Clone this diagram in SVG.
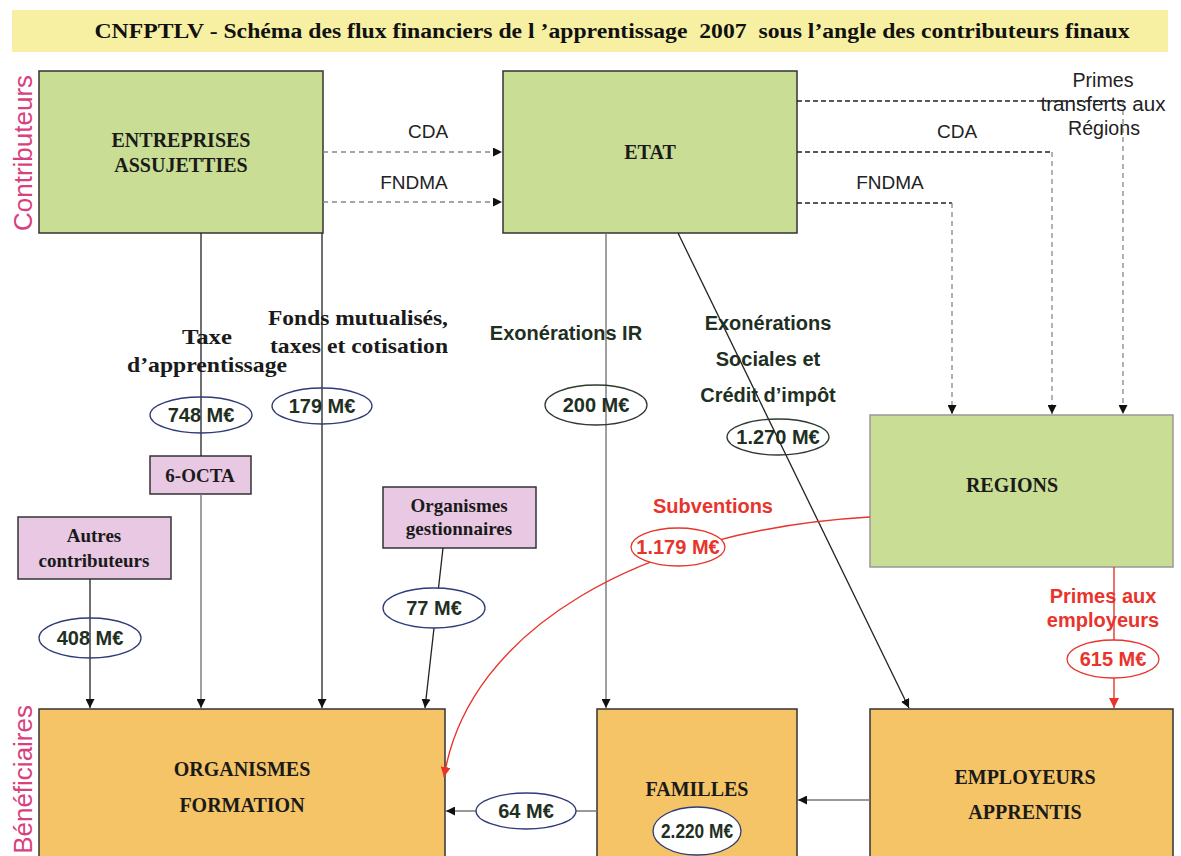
<svg xmlns="http://www.w3.org/2000/svg" width="1181" height="856" viewBox="0 0 1181 856">
<style>
.node{stroke:#333;stroke-width:1.5}
.green{fill:#c9dd94}
.orange{fill:#f5c467}
.pink{fill:#e8c8e2}
.nt{font-family:"Liberation Serif","Times New Roman",serif;font-weight:bold;font-size:20px;fill:#1a1a1a;text-anchor:middle}
.ft{font-family:"Liberation Serif","Times New Roman",serif;font-weight:bold;font-size:22px;fill:#1a1a1a;text-anchor:middle}
.st{font-family:"Liberation Serif","Times New Roman",serif;font-weight:bold;font-size:19px;fill:#1a1a1a;text-anchor:middle}
.lab{font-family:"Liberation Sans",Arial,sans-serif;font-size:19px;fill:#222;text-anchor:middle}
.labs{font-family:"Liberation Sans",Arial,sans-serif;font-size:20px;fill:#222;text-anchor:middle}
.bv{font-family:"Liberation Sans",Arial,sans-serif;font-weight:bold;font-size:20px;fill:#1f2f22;text-anchor:middle}
.redv{font-family:"Liberation Sans",Arial,sans-serif;font-weight:bold;font-size:20px;fill:#e8342b;text-anchor:middle}
.side{font-family:"Liberation Sans",Arial,sans-serif;font-size:26px;fill:#d9417e}
.ln{fill:none;stroke:#222;stroke-width:1.3}
.gl{fill:none;stroke:#777;stroke-width:1.4}
.dsh{fill:none;stroke:#888;stroke-width:1.3;stroke-dasharray:5 4}
.dshk{fill:none;stroke:#222;stroke-width:1.3;stroke-dasharray:5 3}
.rl{fill:none;stroke:#e8342b;stroke-width:1.4}
.eb{fill:none;stroke:#2e3b78;stroke-width:1.3}
.ebw{fill:#fff;stroke:#2e3b78;stroke-width:1.3}
.eg{fill:none;stroke:#2e3a2e;stroke-width:1.3}
.er{fill:#fff;stroke:#e8342b;stroke-width:1.3}
</style>
<defs>
<marker id="ak" viewBox="0 0 10 10" refX="10" refY="5" markerWidth="9" markerHeight="9" markerUnits="userSpaceOnUse" orient="auto"><path d="M0,0 L10,5 L0,10 z" fill="#111"/></marker>
<marker id="ar" viewBox="0 0 10 10" refX="10" refY="5" markerWidth="10" markerHeight="10" markerUnits="userSpaceOnUse" orient="auto"><path d="M0,0 L10,5 L0,10 z" fill="#e8342b"/></marker>
</defs>
<rect width="1181" height="856" fill="#fff"/>
<g id="title">
<rect x="12" y="10" width="1156" height="42" fill="#f7f0a2"/>
<text x="612" y="38" xml:space="preserve" style="white-space:pre" font-family="'Liberation Serif','Times New Roman',serif" font-weight="bold" font-size="20" fill="#111" text-anchor="middle" textLength="1035" lengthAdjust="spacingAndGlyphs">CNFPTLV - Schéma des flux financiers de l ’apprentissage  2007  sous l’angle des contributeurs finaux</text>
</g>
<text class="side" transform="translate(32,153) rotate(-90)" text-anchor="middle">Contributeurs</text>
<text class="side" transform="translate(32,705) rotate(-90)" text-anchor="end">Bénéficiaires</text>

<g id="entreprises">
<rect class="node green" x="39" y="71" width="284" height="162"/>
<text class="nt" x="181" y="147">ENTREPRISES</text>
<text class="nt" x="181" y="172">ASSUJETTIES</text>
</g>
<g id="etat">
<rect class="node green" x="503" y="71" width="294" height="162"/>
<text class="nt" x="650" y="159">ETAT</text>
</g>
<g id="regions">
<rect x="870" y="415" width="303" height="152" fill="#c9dd94" stroke="#999" stroke-width="1.5"/>
<text class="nt" x="1012" y="492">REGIONS</text>
</g>
<g id="octa">
<rect class="node pink" x="150" y="456" width="101" height="38"/>
<text class="st" x="200" y="482">6-OCTA</text>
</g>
<g id="autres">
<rect class="node pink" x="18" y="517" width="153" height="62"/>
<text class="st" x="94" y="542">Autres</text>
<text class="st" x="94" y="567">contributeurs</text>
</g>
<g id="gestionnaires">
<rect class="node pink" x="383" y="487" width="153" height="61"/>
<text class="st" x="459" y="512">Organismes</text>
<text class="st" x="459" y="535">gestionnaires</text>
</g>
<g id="organismes">
<rect class="node orange" x="39" y="709" width="406" height="160"/>
<text class="nt" x="242" y="776">ORGANISMES</text>
<text class="nt" x="242" y="812">FORMATION</text>
</g>
<g id="familles">
<rect class="node orange" x="597" y="709" width="200" height="160"/>
<text class="nt" x="697" y="796">FAMILLES</text>
</g>
<g id="employeurs">
<rect class="node orange" x="870" y="709" width="303" height="160"/>
<text class="nt" x="1025" y="784">EMPLOYEURS</text>
<text class="nt" x="1025" y="819">APPRENTIS</text>
</g>

<g id="connectors">
<path class="dsh" d="M323,152 H502" marker-end="url(#ak)"/>
<path class="dsh" d="M323,202 H502" marker-end="url(#ak)"/>
<text class="lab" x="428" y="138">CDA</text>
<text class="lab" x="414" y="189">FNDMA</text>

<path class="dshk" d="M797,101 H1123"/>
<path class="dsh" d="M1123,101 V414" marker-end="url(#ak)"/>
<path class="dshk" d="M797,152 H1052"/>
<path class="dsh" d="M1052,152 V414" marker-end="url(#ak)"/>
<path class="dshk" d="M797,203 H952"/>
<path class="dsh" d="M952,203 V414" marker-end="url(#ak)"/>
<text class="labs" x="1103" y="87" textLength="61" lengthAdjust="spacingAndGlyphs">Primes</text>
<text class="labs" x="1103" y="111" textLength="125" lengthAdjust="spacingAndGlyphs">transferts aux</text>
<text class="labs" x="1104" y="135" textLength="72" lengthAdjust="spacingAndGlyphs">Régions</text>
<text class="lab" x="957" y="138">CDA</text>
<text class="lab" x="890" y="189">FNDMA</text>

<path class="ln" d="M201,233 V456"/>
<path class="gl" d="M201,494 V708" marker-end="url(#ak)"/>
<path class="ln" d="M322,233 V708" marker-end="url(#ak)"/>
<text class="ft" x="207" y="344" textLength="50" lengthAdjust="spacingAndGlyphs">Taxe</text>
<text class="ft" x="207" y="372" textLength="160" lengthAdjust="spacingAndGlyphs">d’apprentissage</text>
<text class="ft" x="358" y="325" textLength="180" lengthAdjust="spacingAndGlyphs">Fonds mutualisés,</text>
<text class="ft" x="359" y="353" textLength="178" lengthAdjust="spacingAndGlyphs">taxes et cotisation</text>
<ellipse class="eb" cx="201" cy="415" rx="51" ry="18"/>
<text class="bv" x="201" y="422">748 M€</text>
<ellipse class="eb" cx="322" cy="406" rx="50" ry="18"/>
<text class="bv" x="322" y="413">179 M€</text>

<path class="ln" d="M90,579 V708" marker-end="url(#ak)"/>
<ellipse class="eb" cx="90" cy="638" rx="51" ry="20"/>
<text class="bv" x="90" y="645">408 M€</text>

<path class="ln" d="M443,548 L425,708" marker-end="url(#ak)"/>
<ellipse class="ebw" cx="434" cy="608" rx="51" ry="20"/>
<text class="bv" x="434" y="615">77 M€</text>

<path class="gl" d="M606,233 V708" marker-end="url(#ak)"/>
<text class="bv" x="566" y="340">Exonérations IR</text>
<ellipse class="eg" cx="596" cy="405" rx="51" ry="20"/>
<text class="bv" x="596" y="412">200 M€</text>

<path class="ln" d="M678,233 L909,708" stroke="#444" marker-end="url(#ak)"/>
<text class="bv" x="768" y="330">Exonérations</text>
<text class="bv" x="768" y="366">Sociales et</text>
<text class="bv" x="768" y="402">Crédit d’impôt</text>
<ellipse class="eg" cx="778" cy="437" rx="51" ry="18"/>
<text class="bv" x="778" y="444">1.270 M€</text>

<path class="rl" d="M870,517 C640,530 468,630 444,777" marker-end="url(#ar)"/>
<text class="redv" x="713" y="513">Subventions</text>
<ellipse class="er" cx="678" cy="547" rx="47" ry="19"/>
<text class="redv" x="678" y="554">1.179 M€</text>

<path class="rl" d="M1114,567 V708" marker-end="url(#ar)"/>
<text class="redv" x="1103" y="603">Primes aux</text>
<text class="redv" x="1103" y="627">employeurs</text>
<ellipse class="er" cx="1113" cy="659" rx="46" ry="19" fill="none"/>
<text class="redv" x="1113" y="666">615 M€</text>

<path class="gl" d="M870,800 H798" stroke-width="2" marker-end="url(#ak)"/>
<path class="gl" d="M597,811 H446" stroke-width="2" marker-end="url(#ak)"/>
<ellipse class="ebw" cx="526" cy="811" rx="50" ry="18"/>
<text class="bv" x="526" y="818">64 M€</text>
<ellipse class="ebw" cx="697" cy="831" rx="44" ry="24"/>
<text class="bv" x="697" y="838" textLength="72" lengthAdjust="spacingAndGlyphs">2.220 M€</text>
</g>
</svg>
